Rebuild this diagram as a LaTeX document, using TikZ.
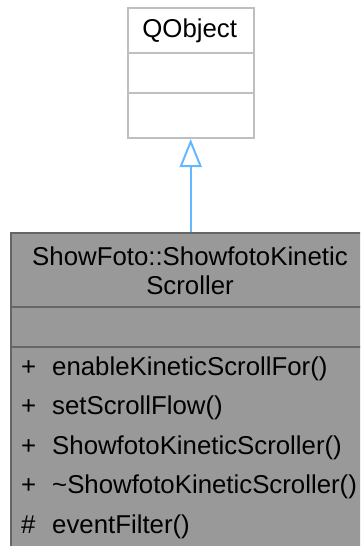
\documentclass[tikz,border=0pt]{standalone}
\usepackage{fontspec}
\setmainfont{Liberation Sans}
\usetikzlibrary{arrows.meta}
\definecolor{clsfill}{HTML}{999999}
\definecolor{clsdraw}{HTML}{666666}
\definecolor{basedraw}{HTML}{BFBFBF}
\definecolor{inh}{HTML}{63B8FF}
\tikzset{
  umltext/.style={inner sep=0pt, font=\fontsize{25.8bp}{29bp}\selectfont, text=black},
  basebox/.style={draw=basedraw, fill=white, line width=2bp, rectangle, inner sep=0pt, anchor=north west},
  clsbox/.style={draw=clsdraw, fill=clsfill, line width=2bp, rectangle, inner sep=0pt, anchor=north west},
  basesep/.style={draw=basedraw, line width=2bp},
  clssep/.style={draw=clsdraw, line width=2bp},
  inherit/.style={draw=inh, line width=2bp, -{Triangle[open, length=28bp, width=22bp, line width=2bp]}},
}
\begin{document}
\begin{tikzpicture}[x=1bp, y=-1bp]
\useasboundingbox (0,0) rectangle (360,546);
\clip (0,0) rectangle (360,546);
% base class
\node[basebox, minimum width=126bp, minimum height=130bp] (qo) at (126.7,7) {};
\node[umltext, anchor=base] (qotitle) at (189.7,38) {QObject};
\draw[basesep] (qo.west |- 0,53) -- (qo.east |- 0,53);
\draw[basesep] (qo.west |- 0,93) -- (qo.east |- 0,93);
% derived class
\node[clsbox, minimum width=360bp, minimum height=340bp] (cls) at (10,232) {};
\node[umltext, anchor=base] (t1) at (190,265) {ShowFoto::ShowfotoKinetic};
\node[umltext, anchor=base] (t2) at (190,294) {Scroller};
\draw[clssep] (cls.west |- 0,307) -- (cls.east |- 0,307);
\draw[clssep] (cls.west |- 0,347) -- (cls.east |- 0,347);
% members
\node[umltext, anchor=base west] (s1) at (21,375) {+};
\node[umltext, anchor=base west] (m1) at (52,375) {enableKineticScrollFor()};
\node[umltext, anchor=base west] (s2) at (21,414) {+};
\node[umltext, anchor=base west] (m2) at (52,414) {setScrollFlow()};
\node[umltext, anchor=base west] (s3) at (21,454) {+};
\node[umltext, anchor=base west] (m3) at (52,454) {ShowfotoKineticScroller()};
\node[umltext, anchor=base west] (s4) at (21,493) {+};
\node[umltext, anchor=base west] (m4) at (52,493) {\textasciitilde ShowfotoKineticScroller()};
\node[umltext, anchor=base west] (s5) at (21,533) {\#};
\node[umltext, anchor=base west] (m5) at (52,533) {eventFilter()};
% inheritance
\coordinate (clstop) at (qo.south |- cls.north);
\draw[inherit] (clstop) -- (qo.south);
\end{tikzpicture}
\end{document}
